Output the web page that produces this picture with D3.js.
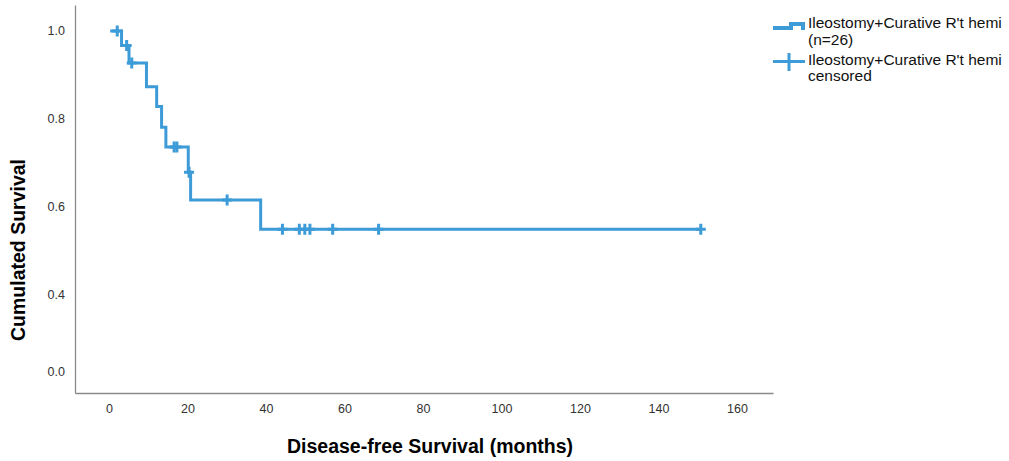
<!DOCTYPE html>
<html>
<head>
<meta charset="utf-8">
<script src="https://cdn.jsdelivr.net/npm/d3@7"></script>
<style>
  body { margin: 0; background: #fff; }
  svg { font-family: "Liberation Sans", Arial, sans-serif; }
</style>
</head>
<body>
<svg width="1009" height="461"></svg>
<script>
// Kaplan-Meier steps
var startTime = 0.3;
var eventTimes = [3.2, 5.1, 9.55, 12.15, 13.4, 14.5, 20.2, 20.8, 38.65];
var eventSurvival = [0.967, 0.927, 0.873, 0.828, 0.781, 0.736, 0.679, 0.616, 0.549];
var censorTimes = [2.1, 4.5, 5.8, 16.6, 17.3, 20.4, 30.1, 44.2, 48.5, 49.9, 51.2, 57.0, 68.7, 150.8];

var xTicks = [0, 20, 40, 60, 80, 100, 120, 140, 160];
// the bottom label reads "0.0" although it sits where ~0.22 would be
var yTickValues = [1.0, 0.8, 0.6, 0.4, 0.225];
var yTickLabels = ["1.0", "0.8", "0.6", "0.4", "0.0"];

var legendLabels = [["Ileostomy+Curative R't hemi", "(n=26)"],
                    ["Ileostomy+Curative R't hemi", "censored"]];

var svg = d3.select("svg");
var blue = "#3d9bd8";

var x = d3.scaleLinear().domain([-8.66, 169.2]).range([75, 773]);
var y = d3.scaleLinear().domain([0.177, 1.059]).range([393, 5]);

// survival at time t
function survAt(t) {
  var s = 1;
  for (var i = 0; i < eventTimes.length; i++) {
    if (eventTimes[i] <= t) s = eventSurvival[i];
  }
  return s;
}

var xAxis = svg.append("g")
    .attr("transform", "translate(0,393)")
    .call(d3.axisBottom(x).tickValues(xTicks).tickSize(0).tickPadding(11));
xAxis.select(".domain").attr("stroke", "#8a8a8a").attr("stroke-width", 1.3);
xAxis.selectAll("text").attr("font-size", "12.5px").attr("fill", "#333")
    .attr("font-family", "Liberation Sans, Arial, sans-serif");

var yAxis = svg.append("g")
    .attr("transform", "translate(75,0)")
    .call(d3.axisLeft(y).tickValues(yTickValues).tickSize(0).tickPadding(10)
      .tickFormat(function(d, i) { return yTickLabels[i]; }));
yAxis.select(".domain").attr("stroke", "#8a8a8a").attr("stroke-width", 1.3);
yAxis.selectAll("text").attr("font-size", "12.5px").attr("fill", "#333")
    .attr("font-family", "Liberation Sans, Arial, sans-serif");

// axis titles
svg.append("text")
    .attr("x", 430).attr("y", 453)
    .attr("text-anchor", "middle")
    .attr("font-size", "19.5px").attr("font-weight", "bold")
    .text("Disease-free Survival (months)");

svg.append("text")
    .attr("transform", "translate(25,250) rotate(-90)")
    .attr("text-anchor", "middle")
    .attr("font-size", "19.5px").attr("font-weight", "bold")
    .text("Cumulated Survival");

// step curve
var pts = [[startTime, 1]];
eventTimes.forEach(function(t, i) { pts.push([t, eventSurvival[i]]); });
pts.push([d3.max(censorTimes), survAt(d3.max(censorTimes))]);

var line = d3.line()
    .x(function(d) { return x(d[0]); })
    .y(function(d) { return y(d[1]); })
    .curve(d3.curveStepAfter);

svg.append("path")
    .datum(pts)
    .attr("d", line)
    .attr("fill", "none")
    .attr("stroke", blue)
    .attr("stroke-width", 3);

// censor marks
svg.append("g").selectAll("path")
    .data(censorTimes)
    .enter().append("path")
      .attr("transform", function(d) { return "translate(" + x(d) + "," + y(survAt(d)) + ")"; })
      .attr("d", "M-5,0H5M0,-5.5V5.5")
      .attr("stroke", blue)
      .attr("stroke-width", 3)
      .attr("fill", "none");

// legend
var legend = svg.append("g");
legend.append("path")
    .attr("d", "M773,28H791V24H803V30")
    .attr("fill", "none").attr("stroke", blue).attr("stroke-width", 4);
legend.append("path")
    .attr("d", "M773,61.5H805M789,53V71")
    .attr("fill", "none").attr("stroke", blue).attr("stroke-width", 3);

var baselines = [[28, 44.5], [64.5, 81]];
legendLabels.forEach(function(lines, i) {
  var t = legend.append("text")
      .attr("font-size", "15.5px").attr("fill", "#111");
  lines.forEach(function(s, j) {
    t.append("tspan").attr("x", 808).attr("y", baselines[i][j]).text(s);
  });
});
</script>
</body>
</html>
